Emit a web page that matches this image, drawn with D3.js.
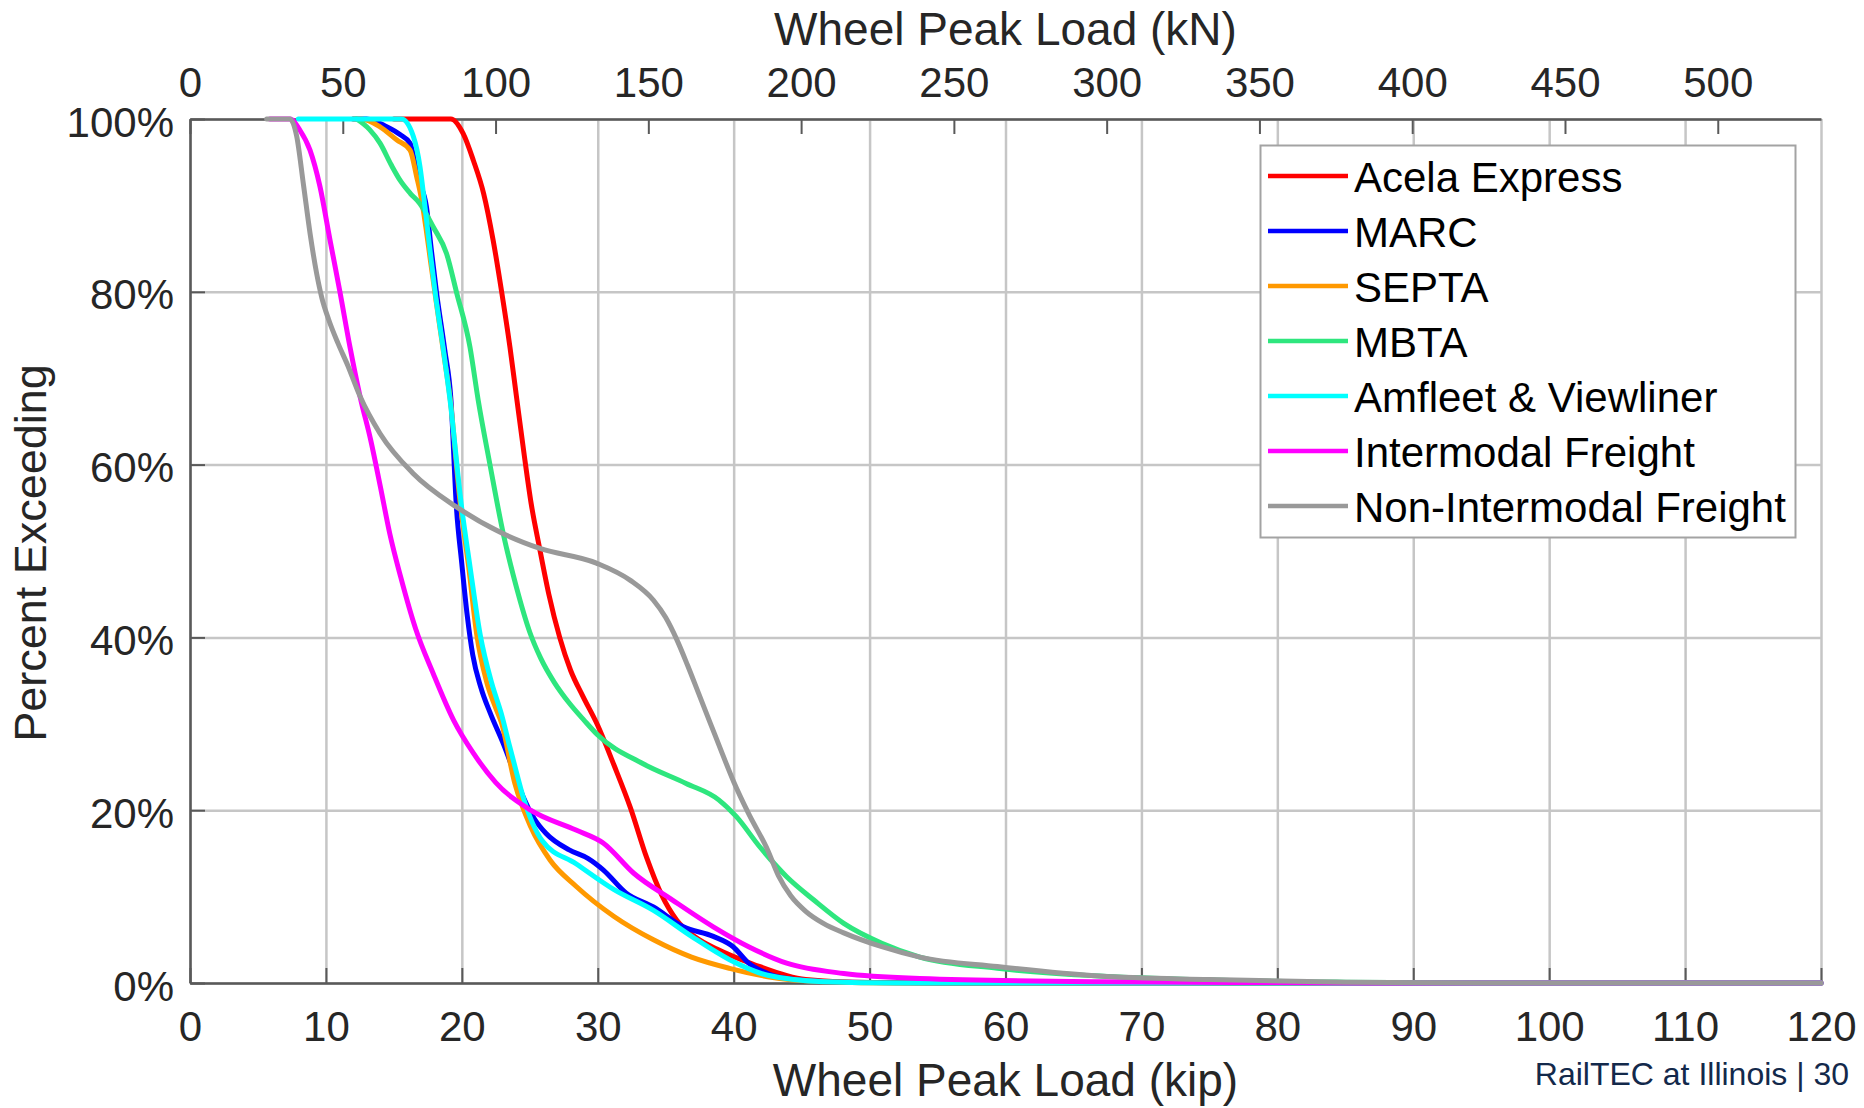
<!DOCTYPE html>
<html>
<head>
<meta charset="utf-8">
<script src="https://cdn.jsdelivr.net/npm/d3@7"></script>
<style>
body { margin: 0; background: #fff; }
text { font-family: "Liberation Sans", Arial, Helvetica, sans-serif; }
</style>
</head>
<body>
<div id="chart"></div>
<script>
const KIP_TO_KN = 4.44822;

const kipTicks = [0, 10, 20, 30, 40, 50, 60, 70, 80, 90, 100, 110, 120];
const kNTicks = [0, 50, 100, 150, 200, 250, 300, 350, 400, 450, 500];
const pctTicks = [0, 20, 40, 60, 80, 100];

const seriesNames = ['Acela Express', 'MARC', 'SEPTA', 'MBTA',
    'Amfleet & Viewliner', 'Intermodal Freight', 'Non-Intermodal Freight'];
const seriesColors = ['#ff0000', '#0000ff', '#ff9900', '#2ee67e',
    '#00ffff', '#ff00ff', '#999999'];

// [kip, percent exceeding]
const acela = [[15, 100], [19.2, 100], [20.1, 98.3], [20.85, 95.2], [21.6, 91.4],
    [22.3, 86], [22.93, 80], [23.54, 73.6], [24.05, 67.5], [24.6, 61], [25.1, 55.5],
    [25.7, 50.5], [26.4, 45], [27.2, 40], [28.0, 36.2], [28.9, 33.2], [30.0, 29.8],
    [31.2, 25.2], [32.4, 20.3], [33.6, 14.5], [34.7, 10.2], [35.8, 7.3], [37.2, 5.3],
    [38.8, 3.9], [41.4, 2.2], [45.3, 0.4], [50, 0.05], [60, 0], [120, 0]];
const marc = [[12, 100], [13, 100], [14.47, 99.1], [15.45, 98.2], [16.19, 97.2],
    [16.8, 93], [17.4, 89.8], [17.76, 84.8], [18.13, 80], [18.74, 73.3], [19.2, 67.5],
    [19.6, 55.1], [20.0, 48.5], [20.4, 42.5], [20.8, 38], [21.4, 34.2], [22.1, 31.2],
    [23.05, 27.7], [24.0, 23.7], [24.5, 21.6], [25.3, 19.1], [26.2, 17.3], [27.9, 15.4],
    [29.3, 14.4], [30.4, 13.1], [32.1, 10.4], [34.1, 8.8], [36.3, 6.5], [38.5, 5.4],
    [39.96, 4.2], [41.1, 2.3], [42.5, 1.1], [44.5, 0.4], [48, 0.1], [55, 0], [120, 0]];
const septa = [[12, 100], [12.6, 100], [13.98, 99.1], [15.2, 97.6], [16.19, 96.4],
    [16.68, 93.3], [17.0, 91], [17.35, 87.5], [17.7, 83.5], [18.1, 79], [18.7, 72.5],
    [19.15, 67.5], [19.85, 56], [20.5, 48.2], [21.1, 40.3], [21.8, 35], [22.5, 31.8],
    [22.9, 30.2], [23.9, 23.1], [25.06, 18.1], [26.5, 14.2], [28.4, 11.2], [31.2, 7.7],
    [34.1, 5.0], [36.9, 3.0], [39.7, 1.7], [42.5, 0.73], [46.7, 0.15], [52, 0], [120, 0]];
const mbta = [[12.26, 100], [13.2, 98.8], [13.98, 97.2], [14.8, 94.7], [15.5, 92.8],
    [16.2, 91.4], [16.92, 90.2], [17.9, 87.5], [18.88, 84.4], [19.6, 80], [20.6, 73.6],
    [21.2, 67.5], [22.07, 60], [23.05, 52], [24.0, 45.9], [25.0, 40.6], [25.8, 37.6],
    [26.8, 34.8], [27.9, 32.4], [29.0, 30.4], [30.0, 28.7], [33.3, 25.4], [36.5, 23.1],
    [38.9, 21.2], [40.2, 19.25], [41.9, 15.8], [43.9, 12.3], [45.9, 9.6], [48.1, 6.9],
    [50.9, 4.6], [53.7, 3.0], [59.4, 1.7], [66.9, 0.8], [75, 0.35], [85, 0.1],
    [95, 0], [120, 0]];
const amfleet = [[7.97, 100], [15.57, 100], [16.43, 98], [16.92, 94.5], [17.29, 89.8],
    [17.66, 84.8], [18.03, 80], [18.64, 73.3], [19.13, 67.5], [19.95, 55.5], [20.6, 48.2],
    [21.35, 40.3], [22.2, 34.7], [22.9, 31.2], [23.5, 27.5], [24.0, 24.5], [24.5, 21.6],
    [25.9, 16.5], [28.4, 13.8], [31.2, 10.8], [34.1, 8.4], [36.9, 5.4], [39.7, 2.7],
    [42.5, 0.9], [46.7, 0.15], [52, 0], [120, 0]];
const intermodal = [[5.88, 100], [7.36, 100], [8.09, 98.7], [8.83, 96.4], [9.56, 92.2],
    [10.3, 86], [11.03, 80], [11.77, 73.6], [12.51, 67.9], [13.3, 62.8], [14.0, 57.5],
    [14.7, 52], [15.5, 47], [16.6, 41], [17.9, 35.8], [19.4, 30.4], [20.85, 26.6],
    [22.5, 23.2], [25.06, 20], [28.4, 17.7], [30.4, 16.2], [32.65, 12.7], [35.5, 9.6],
    [38.5, 6.5], [41.1, 4.2], [43.9, 2.3], [48.1, 1.1], [53.7, 0.53], [66.9, 0.15],
    [80, 0.05], [90, 0], [120, 0]];
const nonIntermodal = [[5.64, 100], [7.36, 100], [7.85, 98], [8.34, 92.5], [8.83, 86.8],
    [9.32, 82.1], [9.7, 79.3], [10.2, 76.8], [10.9, 74], [11.6, 71.5], [12.51, 67.9],
    [13.98, 63.6], [16.4, 59], [19.6, 55.1], [23.05, 52], [25.75, 50.3], [29.9, 48.6],
    [32.4, 46.6], [34.1, 44.3], [35.0, 42.3], [35.8, 39.8], [36.6, 36.8], [37.4, 33.6],
    [38.3, 30], [39.2, 26.4], [40.0, 23.3], [41.1, 19.6], [42.5, 15.4], [43.3, 12.4],
    [44.2, 10.1], [45.3, 8.3], [46.6, 6.9], [48.1, 5.8], [50.9, 4.2], [53.7, 3.0],
    [59.4, 1.9], [66.9, 0.8], [75, 0.4], [85, 0.1], [95, 0], [120, 0]];

const seriesData = [acela, marc, septa, mbta, amfleet, intermodal, nonIntermodal];

const [WIDTH, HEIGHT] = [1864, 1108];
const margin = { left: 190, right: 43, top: 119, bottom: 125 };
const plotW = WIDTH - margin.left - margin.right;
const plotH = HEIGHT - margin.top - margin.bottom;

const AXIS_COLOR = '#595959';
const GRID_COLOR = '#c6c6c6';
const TEXT_COLOR = '#262626';

const svg = d3.select('#chart').append('svg')
    .attr('width', WIDTH)
    .attr('height', HEIGHT)
    .attr('viewBox', `0 0 ${WIDTH} ${HEIGHT}`);

const x = d3.scaleLinear().domain([0, 120]).range([margin.left, margin.left + plotW]);
const xkN = d3.scaleLinear().domain([0, 120 * KIP_TO_KN]).range(x.range());
const y = d3.scaleLinear().domain([0, 100]).range([margin.top + plotH, margin.top]);

// grid
svg.append('g')
    .attr('transform', `translate(0,${margin.top + plotH})`)
    .call(d3.axisBottom(x).tickValues(kipTicks).tickSize(-plotH).tickFormat(''))
    .call((g) => {
        g.select('.domain').remove();
        g.selectAll('line').attr('stroke', GRID_COLOR).attr('stroke-width', 2.5);
    });
svg.append('g')
    .attr('transform', `translate(${margin.left},0)`)
    .call(d3.axisLeft(y).tickValues(pctTicks).tickSize(-plotW).tickFormat(''))
    .call((g) => {
        g.select('.domain').remove();
        g.selectAll('line').attr('stroke', GRID_COLOR).attr('stroke-width', 2.5);
    });

function styleAxis(g) {
    g.select('.domain').attr('stroke', AXIS_COLOR).attr('stroke-width', 2.5);
    g.selectAll('.tick line').attr('stroke', AXIS_COLOR).attr('stroke-width', 2);
    g.selectAll('.tick text')
        .attr('fill', TEXT_COLOR)
        .attr('font-size', 42)
        .attr('font-family', '"Liberation Sans", Arial, sans-serif')
        .attr('dy', null);
}

// bottom axis (kip)
svg.append('g')
    .attr('transform', `translate(0,${margin.top + plotH})`)
    .call(d3.axisBottom(x).tickValues(kipTicks).tickSizeInner(-15).tickSizeOuter(0))
    .call(styleAxis)
    .call((g) => g.selectAll('.tick text').attr('y', 58));

// top axis (kN)
svg.append('g')
    .attr('transform', `translate(0,${margin.top})`)
    .call(d3.axisTop(xkN).tickValues(kNTicks).tickSizeInner(-15).tickSizeOuter(0))
    .call(styleAxis)
    .call((g) => g.selectAll('.tick text').attr('y', -22));

// left axis (%)
svg.append('g')
    .attr('transform', `translate(${margin.left},0)`)
    .call(d3.axisLeft(y).tickValues(pctTicks).tickSizeInner(-15).tickSizeOuter(0)
        .tickFormat((d) => d + '%'))
    .call(styleAxis)
    .call((g) => g.selectAll('.tick text').attr('x', -16).attr('y', 17));

// curves
const line = d3.line()
    .x((d) => x(d[0]))
    .y((d) => y(d[1]))
    .curve(d3.curveMonotoneX);

svg.append('g')
    .selectAll('path')
    .data(seriesData)
    .join('path')
    .attr('d', line)
    .attr('fill', 'none')
    .attr('stroke', (d, i) => seriesColors[i])
    .attr('stroke-width', 5)
    .attr('stroke-linejoin', 'round')
    .attr('stroke-linecap', 'round');

// axis titles
svg.append('text')
    .attr('x', margin.left + plotW / 2)
    .attr('y', 45)
    .attr('text-anchor', 'middle')
    .attr('font-size', 46)
    .attr('fill', TEXT_COLOR)
    .text('Wheel Peak Load (kN)');

svg.append('text')
    .attr('x', margin.left + plotW / 2)
    .attr('y', 1096)
    .attr('text-anchor', 'middle')
    .attr('font-size', 46)
    .attr('fill', TEXT_COLOR)
    .text('Wheel Peak Load (kip)');

svg.append('text')
    .attr('transform', `translate(46,${margin.top + plotH / 2 + 2}) rotate(-90)`)
    .attr('text-anchor', 'middle')
    .attr('font-size', 45)
    .attr('fill', TEXT_COLOR)
    .text('Percent Exceeding');

// legend
const legend = svg.append('g');
legend.append('rect')
    .attr('x', 1260.5)
    .attr('y', 145.5)
    .attr('width', 535)
    .attr('height', 392)
    .attr('fill', '#fff')
    .attr('stroke', '#a3a3a3')
    .attr('stroke-width', 2);

const entries = legend.selectAll('.entry')
    .data(seriesNames)
    .join('g')
    .attr('class', 'entry')
    .attr('transform', (d, i) => `translate(0,${176 + i * 55})`);
entries.append('line')
    .attr('x1', 1268).attr('x2', 1348)
    .attr('stroke', (d, i) => seriesColors[i])
    .attr('stroke-width', 4.5);
entries.append('text')
    .attr('x', 1354)
    .attr('y', 16)
    .attr('font-size', 42)
    .attr('fill', '#000')
    .text((d) => d);

// footer
svg.append('text')
    .attr('x', 1849)
    .attr('y', 1085)
    .attr('text-anchor', 'end')
    .attr('font-size', 32)
    .attr('fill', '#13294b')
    .text('RailTEC at Illinois | 30');
</script>
</body>
</html>
